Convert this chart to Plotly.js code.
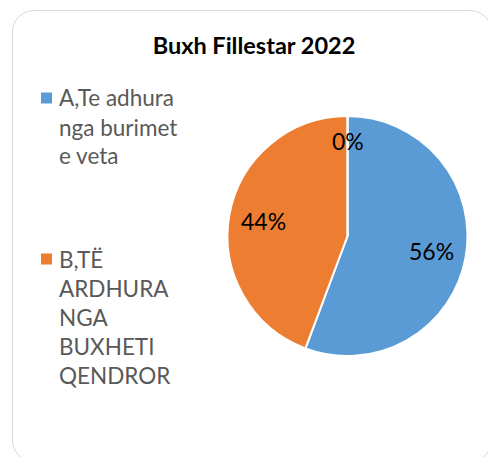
<!DOCTYPE html>
<html>
<head>
<meta charset="utf-8">
<script src="https://cdn.plot.ly/plotly-3.0.1.min.js"></script>
<style>
  html, body { margin: 0; padding: 0; background: #ffffff; overflow: hidden; }
  #frame { position: absolute; left: 12px; top: 10px; width: 480px; height: 452px;
           border: 1.5px solid #d9d9d9; border-radius: 22px; box-sizing: border-box; }
  #chart { position: absolute; left: 0; top: 0; width: 488px; height: 457px; }
</style>
</head>
<body>
<div id="frame"></div>
<div id="chart"></div>
<script>
// ---- data ----
const chartTitle = 'Buxh Fillestar 2022';
const labels = ['A,Te adhura nga burimet e veta', 'B,TË ARDHURA NGA BUXHETI QENDROR', 'C'];
const legendLines = [['A,Te adhura', 'nga burimet', 'e veta'], ['B,TË', 'ARDHURA', 'NGA', 'BUXHETI', 'QENDROR']];
const values = [55.7, 44.3, 0];
const colors = ['#5B9BD5', '#ED7D31', '#A5A5A5'];

// ---- layout helpers ----
const W = 488, H = 457;
const px = x => x / W;
const py = y => 1 - y / H;
const FONT = 'Lato, "Open Sans", sans-serif';

const pieCx = 347.5, pieCy = 236, pieR = 120;
const pieDomX = [px(pieCx - pieR), px(pieCx + pieR)];
const pieDomY = [py(pieCy + pieR), py(pieCy - pieR)];

const trace = {
  type: 'pie',
  labels: labels,
  values: values,
  sort: false,
  direction: 'clockwise',
  rotation: 0,
  marker: { colors: colors, line: { color: '#ffffff', width: 2 } },
  textinfo: 'none',
  hoverinfo: 'label+percent',
  showlegend: false,
  domain: { x: pieDomX, y: pieDomY }
};

const annotations = [];
const shapes = [];
// legend (swatch + wrapped text)
const groupTops = [98, 259];
const lineGap = 29;
legendLines.forEach((lines, gi) => {
  const yc = groupTops[gi];
  shapes.push({ type: 'rect', xref: 'paper', yref: 'paper',
    x0: px(41), x1: px(52), y0: py(yc + 5.5), y1: py(yc - 5.5),
    fillcolor: colors[gi], line: { width: 0 } });
  lines.forEach((t, li) => {
    annotations.push({ xref: 'paper', yref: 'paper', x: px(57), y: py(yc + li * lineGap),
      xanchor: 'left', yanchor: 'middle', showarrow: false, text: t,
      font: { family: FONT, size: 22.5, color: '#595959' } });
  });
});

// data labels (best-fit style, placed from the slice angles)
const total = values.reduce((a, b) => a + b, 0);
const labelRadius = [0.71, 0.71, 0.79];
let cum = 0;
values.forEach((v, i) => {
  const mid = (cum + v / 2) / total * 2 * Math.PI; // clockwise from 12 o'clock
  cum += v;
  const r = labelRadius[i] * pieR;
  const lx = pieCx + r * Math.sin(mid);
  const ly = pieCy - r * Math.cos(mid);
  annotations.push({ xref: 'paper', yref: 'paper', x: px(lx), y: py(ly),
    xanchor: 'center', yanchor: 'middle', showarrow: false,
    text: Math.round(100 * v / total) + '%',
    font: { family: FONT, size: 23, color: '#000000' } });
});

const layout = {
  width: W, height: H,
  margin: { l: 0, r: 0, t: 0, b: 0 },
  paper_bgcolor: 'rgba(0,0,0,0)',
  plot_bgcolor: 'rgba(0,0,0,0)',
  title: { text: '<b>' + chartTitle + '</b>', x: px(254), xanchor: 'center', y: py(46), yanchor: 'middle',
           font: { family: FONT, size: 23.5, color: '#000000' } },
  showlegend: false,
  annotations: annotations,
  shapes: shapes
};

Plotly.newPlot('chart', [trace], layout, { displayModeBar: false, staticPlot: true });
</script>
</body>
</html>
